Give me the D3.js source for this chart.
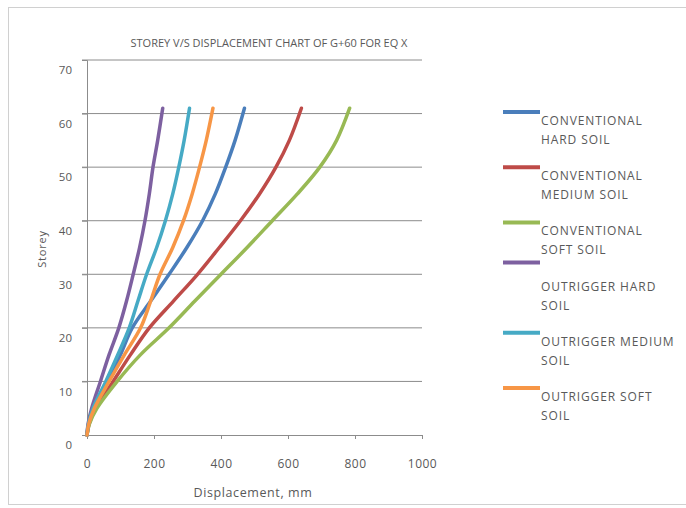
<!DOCTYPE html>
<html>
<head>
<meta charset="utf-8">
<script src="https://cdn.jsdelivr.net/npm/d3@7/dist/d3.min.js"></script>
<style>
  body { margin: 0; background: #fff; }
  svg text { font-family: "Open Sans", sans-serif; fill: #595959; }
</style>
</head>
<body>
<svg width="686" height="508"></svg>
<script>
// storey levels
var storeys = [0, 2, 5, 10, 15, 20, 25, 30, 35, 40, 45, 50, 55, 61];

// displacement (mm) per series at those storeys
var convHard   = [0, 5, 22, 63, 100, 135, 190, 245, 298, 345, 383, 414, 442, 470];
var convMedium = [0, 6, 26, 78, 130, 186, 258, 330, 395, 458, 515, 564, 604, 640];
var convSoft   = [0, 7, 30, 90, 160, 245, 322, 400, 478, 553, 628, 695, 745, 784];
var outHard    = [0, 3, 14, 40, 66, 95, 118, 138, 157, 173, 186, 197, 211, 226];
var outMedium  = [0, 4, 18, 56, 92, 126, 152, 178, 208, 234, 256, 274, 290, 306];
var outSoft    = [0, 5, 22, 66, 112, 160, 190, 218, 256, 288, 314, 336, 356, 376];

var seriesNames = [
  ["CONVENTIONAL", "HARD SOIL"],
  ["CONVENTIONAL", "MEDIUM SOIL"],
  ["CONVENTIONAL", "SOFT SOIL"],
  ["OUTRIGGER HARD", "SOIL"],
  ["OUTRIGGER MEDIUM", "SOIL"],
  ["OUTRIGGER SOFT", "SOIL"]
];
var seriesValues = [convHard, convMedium, convSoft, outHard, outMedium, outSoft];
var colors = ["#4a7ebb", "#be4b48", "#98b954", "#7d60a0", "#46aac5", "#f79646"];

var xTicks = [0, 200, 400, 600, 800, 1000];
var yTicks = [0, 10, 20, 30, 40, 50, 60, 70];

var svg = d3.select('svg');

// outer frame
svg.append('rect')
  .attr('x', 8.5).attr('y', 7.5)
  .attr('width', 690).attr('height', 497)
  .attr('fill', 'none').attr('stroke', '#d0d0d0');

var x = d3.scaleLinear().domain([0, 1000]).range([87, 422]);
var y = d3.scaleLinear().domain([0, 70]).range([435, 60]);

// gridlines
svg.append('g')
  .selectAll('line')
  .data(yTicks.slice(1))
  .enter()
  .append('line')
  .attr('x1', 82).attr('x2', x(1000))
  .attr('y1', function(d) { return y(d); })
  .attr('y2', function(d) { return y(d); })
  .attr('stroke', '#8c8c8c')
  .attr('stroke-width', 1);

// x axis
var xAxis = svg.append('g')
  .attr('transform', 'translate(0,' + y(0) + ')')
  .call(d3.axisBottom(x).tickValues(xTicks).tickFormat(d3.format('d')).tickSize(4).tickPadding(20));
xAxis.select('.domain').attr('stroke', '#8c8c8c');
xAxis.selectAll('.tick line').attr('stroke', '#8c8c8c');
xAxis.selectAll('text').style('font-size', '12px').style('letter-spacing', '0.5px').attr('fill', '#595959');

// y axis
var yAxis = svg.append('g')
  .attr('transform', 'translate(' + x(0) + ',0)')
  .call(d3.axisLeft(y).tickValues(yTicks).tickSize(5).tickPadding(10));
yAxis.select('.domain').attr('stroke', '#8c8c8c');
yAxis.selectAll('.tick line').attr('stroke', '#8c8c8c');
yAxis.selectAll('text').style('font-size', '11.5px').attr('fill', '#595959').attr('dy', '1.2em');

// titles
svg.append('text')
  .attr('x', 269).attr('y', 47)
  .attr('text-anchor', 'middle')
  .style('font-size', '11px')
  .text('STOREY V/S DISPLACEMENT CHART OF G+60 FOR EQ X');

svg.append('text')
  .attr('x', 253).attr('y', 497)
  .attr('text-anchor', 'middle')
  .style('font-size', '12.5px')
  .style('letter-spacing', '0.6px')
  .text('Displacement, mm');

svg.append('text')
  .attr('transform', 'translate(46,249) rotate(-90)')
  .attr('text-anchor', 'middle')
  .style('font-size', '11px')
  .style('letter-spacing', '0.8px')
  .text('Storey');

// series lines
var line = d3.line()
  .x(function(d) { return x(d[0]); })
  .y(function(d) { return y(d[1]); })
  .curve(d3.curveCatmullRom);

seriesValues.forEach(function(vals, i) {
  var pts = vals.map(function(v, j) { return [v, storeys[j]]; });
  svg.append('path')
    .datum(pts)
    .attr('d', line)
    .attr('fill', 'none')
    .attr('stroke', colors[i])
    .attr('stroke-width', 3.5)
    .attr('stroke-linejoin', 'round')
    .attr('stroke-linecap', 'round');
});

// legend
var markerShift = [0, 0, 0, -15, 0, 0];
var legend = svg.append('g');
seriesNames.forEach(function(lines, i) {
  var ty = 121 + i * 55.2;
  legend.append('line')
    .attr('x1', 503).attr('x2', 540)
    .attr('y1', ty - 9 + markerShift[i]).attr('y2', ty - 9 + markerShift[i])
    .attr('stroke', colors[i]).attr('stroke-width', 4);
  lines.forEach(function(t, k) {
    legend.append('text')
      .attr('x', 541).attr('y', ty + k * 19 + 4)
      .style('font-size', '12px')
      .style('letter-spacing', '0.9px')
      .text(t);
  });
});
</script>
</body>
</html>
